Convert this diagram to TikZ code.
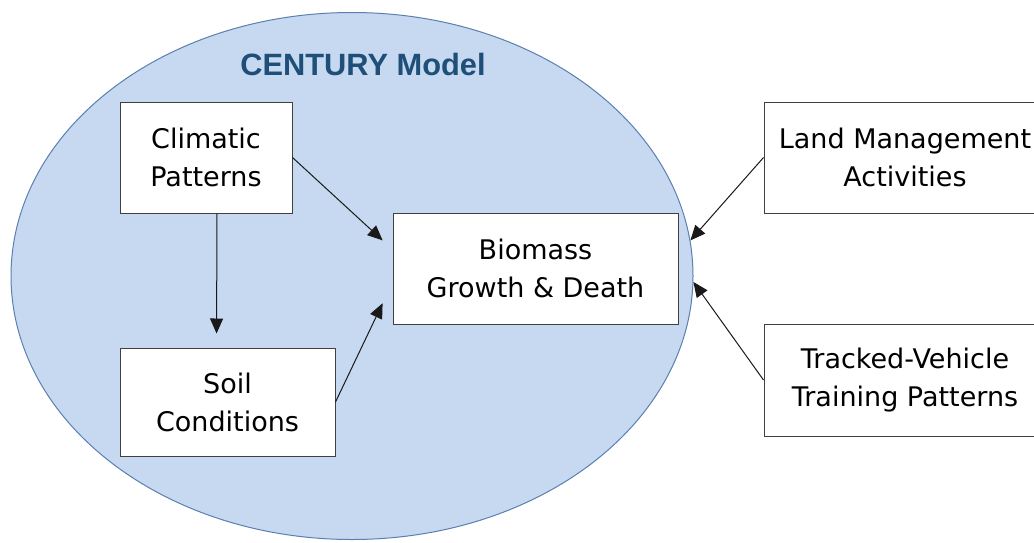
\documentclass[tikz,border=0pt]{standalone}
\usepackage{fontspec}
\setmainfont{Liberation Sans}
\newfontfamily\boxfont{DejaVu Sans}
\usetikzlibrary{shapes.geometric,arrows.meta,calc}
\definecolor{modelfill}{HTML}{C6D9F0}
\definecolor{modelline}{HTML}{5B7FB0}
\definecolor{titleblue}{HTML}{1F4E79}

\begin{document}
\begin{tikzpicture}[x=0.5pt,y=-0.5pt,
    box/.style={draw=black!75,line width=0.5pt,fill=white,align=center,inner sep=0pt,
      font=\boxfont\fontsize{13.5}{19}\selectfont},
    arr/.style={-{Triangle[length=7.5pt,width=6.5pt]},black!90,line width=0.5pt}]
  \useasboundingbox (0,0) rectangle (1034,542);
  % the model
  \node[ellipse,draw=modelline,fill=modelfill,line width=0.5pt,inner sep=0pt,
    minimum width=341pt,minimum height=263.5pt] (century) at (352,276) {};
  \node[anchor=base,text=titleblue,font=\fontsize{15.4}{18}\selectfont\bfseries] (title) at (363,75) {CENTURY Model};
  % inside
  \node[box,minimum width=86pt,minimum height=55.5pt] (clim) at (206,157.5) {Climatic\\Patterns};
  \node[box,minimum width=107.5pt,minimum height=54pt] (soil) at (227.5,402) {Soil\\Conditions};
  \node[box,minimum width=142.5pt,minimum height=55.5pt] (bio) at (535.5,268.5) {Biomass\\Growth \& Death};
  % outside
  \node[box,minimum width=141pt,minimum height=55.5pt] (land) at (905,157.5) {Land Management\\Activities};
  \node[box,minimum width=141pt,minimum height=56pt] (track) at (905,380) {Tracked-Vehicle\\Training Patterns};
  % links
  \draw[arr,shorten >=7pt] ([xshift=5.5pt]clim.south) -- ([xshift=-5.5pt]soil.north);
  \draw[arr,shorten >=6.7pt] (clim.east) -- ($(bio.north west)!0.33!(bio.south west)$);
  \draw[arr,shorten >=11.5pt] (soil.east) -- ($(bio.north west)!0.625!(bio.south west)$);
  \draw[arr] (land.west) -- (century.6);
  \draw[arr] (track.west) -- (century.-1);
\end{tikzpicture}
\end{document}
